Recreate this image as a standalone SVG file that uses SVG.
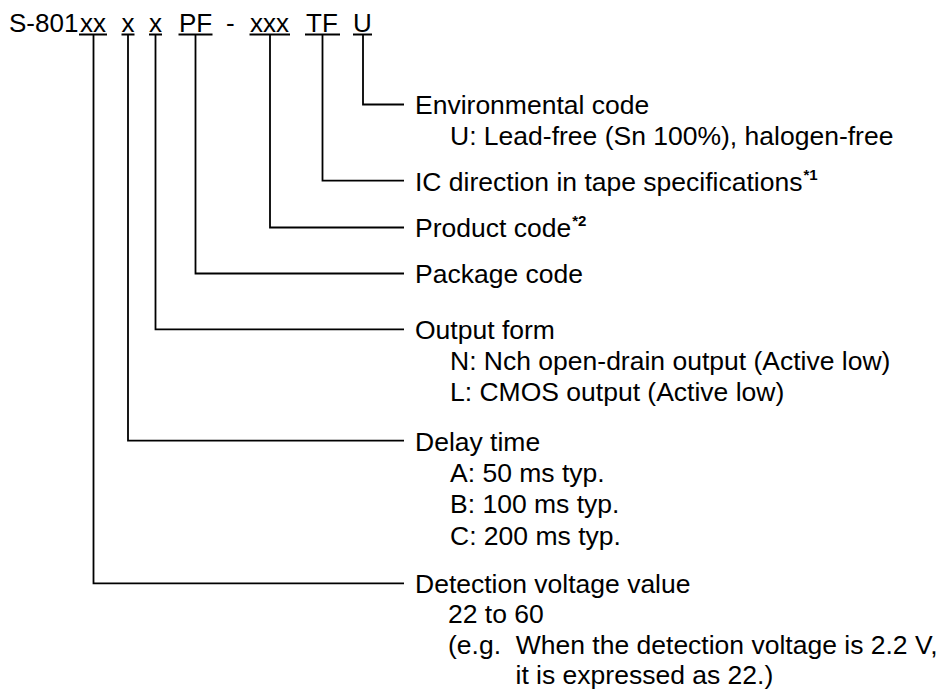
<svg xmlns="http://www.w3.org/2000/svg" width="948" height="693" viewBox="0 0 948 693">
<style>
  text { font-family: "Liberation Sans", Arial, sans-serif; font-size: 26.5px; fill: #000; }
  .code { font-size: 26px; }
  .sup { font-size: 15px; font-weight: bold; }
  .ul { stroke: #000; stroke-width: 2; fill: none; }
  .conn path { stroke: #000; stroke-width: 1.8; fill: none; }
</style>
<rect width="948" height="693" fill="#fff"/>
<g id="part-number">
  <text class="code" x="9" y="32">S-801</text>
  <text class="code" x="80" y="32">xx</text>
  <text class="code" x="121.5" y="32">x</text>
  <text class="code" x="149" y="32">x</text>
  <text class="code" x="179" y="32">PF</text>
  <text class="code" x="226" y="32">-</text>
  <text class="code" x="250" y="32">xxx</text>
  <text class="code" x="306" y="32">TF</text>
  <text class="code" x="353" y="32">U</text>
  <path class="ul" d="M79 34.5H107 M121.5 34.5H134.5 M149 34.5H162 M178.5 34.5H212.5 M249.5 34.5H290 M305 34.5H340 M353 34.5H372"/>
</g>
<g class="conn" id="connectors">
  <path d="M363 35V104.5H404"/>
  <path d="M322.5 35V180.7H404"/>
  <path d="M270 35V227.5H404"/>
  <path d="M195.5 35V273.5H404"/>
  <path d="M155.5 35V329.3H404"/>
  <path d="M128 35V440.7H404"/>
  <path d="M93.5 35V583.3H404"/>
</g>
<g id="environmental-code">
  <text x="415" y="114">Environmental code</text>
  <text x="450" y="145">U: Lead-free (Sn 100%), halogen-free</text>
</g>
<g id="ic-direction">
  <text x="415" y="190.5">IC direction in tape specifications<tspan class="sup" dx="1" dy="-11">*1</tspan></text>
</g>
<g id="product-code">
  <text x="415" y="237">Product code<tspan class="sup" dx="1" dy="-11">*2</tspan></text>
</g>
<g id="package-code">
  <text x="415" y="283">Package code</text>
</g>
<g id="output-form">
  <text x="415" y="339">Output form</text>
  <text x="450" y="370">N: Nch open-drain output (Active low)</text>
  <text x="450" y="401">L: CMOS output (Active low)</text>
</g>
<g id="delay-time">
  <text x="415" y="450.5">Delay time</text>
  <text x="450" y="481.5">A: 50 ms typ.</text>
  <text x="450" y="513">B: 100 ms typ.</text>
  <text x="450" y="544.5">C: 200 ms typ.</text>
</g>
<g id="detection-voltage">
  <text x="415" y="593">Detection voltage value</text>
  <text x="448" y="623">22 to 60</text>
  <text x="448" y="653.5" xml:space="preserve">(e.g.  When the detection voltage is 2.2 V,</text>
  <text x="515.5" y="684">it is expressed as 22.)</text>
</g>
</svg>
